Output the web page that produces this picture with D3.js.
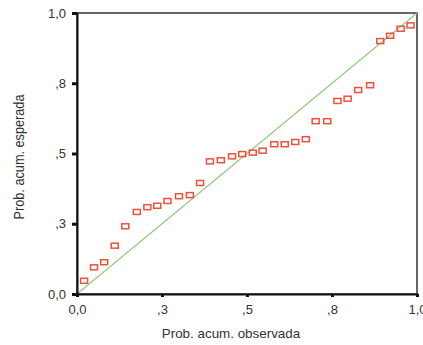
<!DOCTYPE html>
<html><head><meta charset="utf-8">
<script src="https://cdn.jsdelivr.net/npm/d3@7"></script>
<style>
html,body{margin:0;padding:0;background:#fff;}
svg{display:block;}
</style></head>
<body>
<script>
// Observed cumulative probability (x) and expected cumulative probability (y)
const observed = [0.021,0.050,0.080,0.111,0.142,0.176,0.207,0.236,0.266,0.300,0.332,0.362,0.391,0.423,0.456,0.486,
                  0.517,0.546,0.580,0.611,0.642,0.673,0.702,0.736,0.766,0.796,0.827,0.862,0.892,0.921,0.952,0.981];
const expected = [0.047,0.095,0.113,0.172,0.241,0.292,0.309,0.314,0.331,0.348,0.352,0.395,0.472,0.476,0.490,0.498,
                  0.503,0.510,0.533,0.533,0.541,0.551,0.615,0.615,0.687,0.695,0.726,0.743,0.900,0.919,0.944,0.956];
const tickValues = [0, 0.25, 0.5, 0.75, 1];
const tickLabels = ["0,0", ",3", ",5", ",8", "1,0"];
const xTitle = "Prob. acum. observada";
const yTitle = "Prob. acum. esperada";

(function(){
const W = 423, H = 345;
const mL = 77, mR = 417, mT = 13, mB = 294;

const svg = d3.select("body").append("svg").attr("width", W).attr("height", H);
const x = d3.scaleLinear().domain([0,1]).range([mL, mR]);
const y = d3.scaleLinear().domain([0,1]).range([mB, mT]);

// frame
svg.append("rect").attr("x", mL).attr("y", mT).attr("width", mR-mL).attr("height", mB-mT)
  .attr("fill", "none").attr("stroke", "#333").attr("stroke-width", 1.5);

// diagonal reference line
svg.append("line").attr("x1", x(0)).attr("y1", y(0)).attr("x2", x(1)).attr("y2", y(1))
  .attr("stroke", "#8fcd7c").attr("stroke-width", 1.2);

// axes
const fmt = (d) => tickLabels[tickValues.indexOf(d)];
const xAxis = d3.axisBottom(x).tickValues(tickValues).tickFormat(fmt).tickSize(3).tickPadding(8);
const yAxis = d3.axisLeft(y).tickValues(tickValues).tickFormat(fmt).tickSize(5).tickPadding(6);

const gx = svg.append("g").attr("transform", `translate(0,${mB})`).call(xAxis);
const gy = svg.append("g").attr("transform", `translate(${mL},0)`).call(yAxis);
[gx, gy].forEach(g => {
  g.select(".domain").attr("stroke", "#111").attr("stroke-width", 2);
  g.selectAll(".tick line").attr("stroke", "#111").attr("stroke-width", 3);
  g.selectAll(".tick text").attr("fill", "#333")
    .style("font-family", "'Liberation Sans', Arial, sans-serif").style("font-size", "13px");
});

// points
svg.append("g").selectAll("rect").data(observed).join("rect")
  .attr("x", (d) => x(d) - 3.5)
  .attr("y", (d, i) => y(expected[i]) - 2.5)
  .attr("width", 7).attr("height", 5)
  .attr("fill", "none").attr("stroke", "#f0503a").attr("stroke-width", 1.5);

// titles
svg.append("text").attr("x", 231).attr("y", 338).attr("text-anchor", "middle")
  .attr("fill", "#333").style("font-family", "'Liberation Sans', Arial, sans-serif").style("font-size", "13.4px")
  .text(xTitle);
svg.append("text").attr("transform", `translate(24,157) rotate(-90)`).attr("text-anchor", "middle")
  .attr("fill", "#333").style("font-family", "'Liberation Sans Narrow', 'Liberation Sans', Arial, sans-serif")
  .style("font-size", "14px")
  .attr("textLength", 125).attr("lengthAdjust", "spacingAndGlyphs")
  .text(yTitle);
})();
</script>
</body></html>
